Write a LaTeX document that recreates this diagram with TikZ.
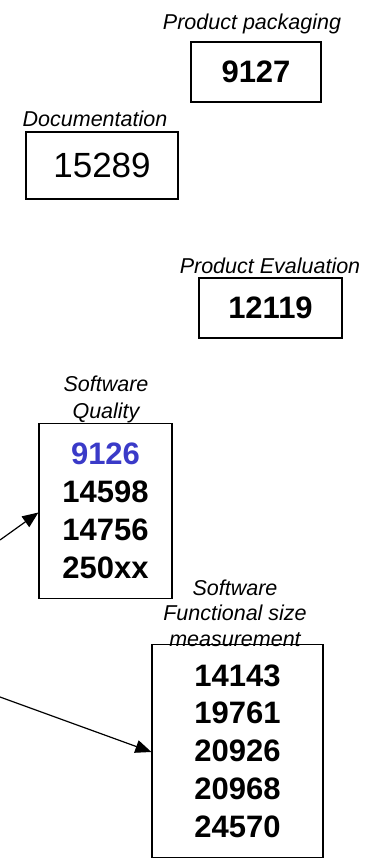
\documentclass[tikz,border=0pt]{standalone}
\usepackage{fontspec}
\setmainfont{Liberation Sans}
\usetikzlibrary{arrows.meta}
\definecolor{isoblue}{RGB}{58,58,200}
\begin{document}
\begin{tikzpicture}[x=1pt,y=-1pt,
  box/.style={draw=black,line width=1.2pt,inner sep=0pt,align=center},
  lbl/.style={font=\fontsize{21.5}{26}\selectfont\itshape,align=center,inner sep=0pt},
  big/.style={font=\fontsize{31}{37.8}\selectfont\bfseries},
  arr/.style={line width=1.2pt,-{Triangle[length=16pt,width=13pt]}}]
\useasboundingbox (0,0) rectangle (375,865);
% boxes
\node[box,big,minimum width=130pt,minimum height=60pt] (pp) at (256,72) {9127};
\node[box,font=\fontsize{35}{42}\selectfont,minimum width=152pt,minimum height=67pt] (doc) at (102,165.5) {15289};
\node[box,big,minimum width=143pt,minimum height=60pt] (pe) at (270.5,308) {12119};
\node[box,big,minimum width=133pt,minimum height=175pt] (sq) at (105.5,511) {\textcolor{isoblue}{9126}\\14598\\14756\\250xx};
\node[box,big,minimum width=171pt,minimum height=213pt] (fsm) at (237.5,751) {14143\\19761\\20926\\20968\\24570};
% labels
\node[lbl] (lpp) at (252,24) {Product packaging};
\node[lbl] (ldoc) at (95,119) {Documentation};
\node[lbl] (lpe) at (270,266) {Product Evaluation};
\node[lbl,font=\fontsize{21.5}{27}\selectfont\itshape] (lsq) at (106,399) {Software\\Quality};
\node[lbl,font=\fontsize{21.5}{25.5}\selectfont\itshape] (lfsm) at (235,613) {Software\\Functional size\\measurement};
% arrows
\coordinate (a1) at (0,540);
\coordinate (a2) at (0,697);
\draw[arr] (a1) -- ([yshift=-1.5pt]sq.west);
\draw[arr] (a2) -- ([yshift=-1pt]fsm.west);
\end{tikzpicture}
\end{document}
